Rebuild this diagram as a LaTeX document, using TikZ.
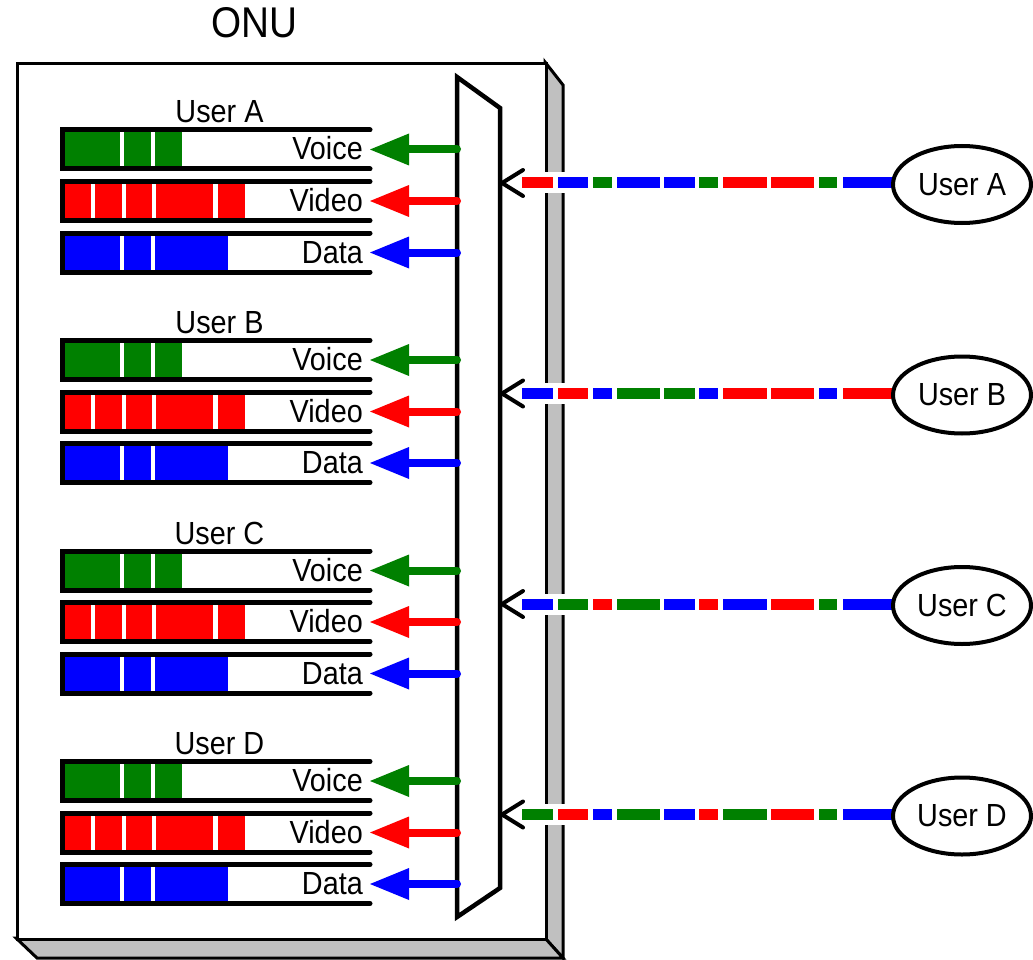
\documentclass[tikz,border=0pt]{standalone}
\usepackage{fontspec}
\setmainfont[FakeStretch=0.9]{Liberation Sans}
\usetikzlibrary{shapes.geometric}

\definecolor{vgreen}{HTML}{008000}
\definecolor{vred}{HTML}{FF0000}
\definecolor{vblue}{HTML}{0000FF}
\definecolor{housegray}{HTML}{C0C0C0}

\tikzset{
  lbl/.style={font=\fontsize{32}{36}\selectfont, inner sep=0pt},
  titlelbl/.style={font=\fontsize{43}{48}\selectfont, inner sep=0pt},
  bracket/.style={line width=5pt, line cap=round, line join=miter},
  feed/.style={line width=8pt, line cap=round},
  muxline/.style={line width=4.5pt, line join=miter, fill=white},
  house/.style={line width=3pt, line join=miter, draw=black},
  userbox/.style={ellipse, draw, line width=4pt, fill=white, minimum width=138pt,
    minimum height=77pt, inner sep=0pt, font=\fontsize{32}{36}\selectfont},
  openarrow/.style={line width=4pt, line cap=round, line join=miter}
}

% one queue: centre y, colour, label, list of packet spans, name
\newcommand\queuerow[5]{%
  \foreach \a/\b in {#4} {\fill[#2] (\a,#1-17) rectangle (\b,#1+17);}
  \draw[bracket] (370,#1-19.5) -- (62,#1-19.5) -- (62,#1+19.5) -- (370,#1+19.5);
  \node[lbl, anchor=base east] (#5) at (363,#1+10.5) {#3};
  \coordinate (#5src) at (457,#1);
  \coordinate (#5tip) at (370,#1);
  \draw[feed, #2] (#5src) -- (409,#1);
  \fill[#2] (#5tip) -- (409,#1-16) -- (409,#1+16) -- cycle;
}

% one user: vertical offset, letter, colours of the ten packets on the drop line
\newcommand\usergroup[3]{%
  \begin{scope}[yshift=-#1pt]
    \node[lbl, anchor=base] (lab#2) at (219.5,123) {User #2};
    \queuerow{149.5}{vgreen}{Voice}{64/120,124/151,155/182}{voice#2}
    \queuerow{201}{vred}{Video}{64/91,95/122,126/152,156/213,218/245}{video#2}
    \queuerow{252.5}{vblue}{Data}{64/120,124/151,155/228}{data#2}
    % drop line from the user into the ONU
    \coordinate (in#2) at (502,183);
    \fill[white] (540,172.5) rectangle (567,193.5);
    \foreach \c [count=\i from 0] in {#3} {
      \pgfmathsetmacro\xa{{522,558,593,617,664,699,723,771,819,843}[\i]}
      \pgfmathsetmacro\xb{{553,588,612,660,695,718,767,814,837,893}[\i]}
      \fill[\c] (\xa,177.5) rectangle (\xb,188.5);
    }
    \node[userbox] (ue#2) at (962,184.5) {User #2};
    \draw[openarrow] ([shift={(21,-13)}]in#2) -- (in#2) -- ([shift={(21,13)}]in#2);
  \end{scope}
}

\begin{document}
\begin{tikzpicture}[x=1pt, y=-1pt]
  \useasboundingbox (0,0) rectangle (1033,960);

  % ONU housing: side and bottom faces, then the front face
  \filldraw[house, fill=housegray] (545,62) -- (563,85) -- (563,958) -- (545,938) -- cycle;
  \filldraw[house, fill=housegray] (16,938) -- (545,938) -- (563,958) -- (37,958) -- cycle;
  \node[house, fill=white, minimum width=529pt, minimum height=876pt,
        anchor=north west, inner sep=0pt] (onu) at (16,62) {};
  \node[titlelbl, anchor=base] (title) at (254,38) {ONU};

  % demultiplexer
  \coordinate (m1) at (457,77);
  \coordinate (m2) at (500,108);
  \coordinate (m3) at (500,888);
  \coordinate (m4) at (457,917);
  \draw[muxline] (m1) -- (m2) -- (m3) -- (m4) -- cycle;

  \usergroup{0}{A}{vred,vblue,vgreen,vblue,vblue,vgreen,vred,vred,vgreen,vblue}
  \usergroup{210.5}{B}{vblue,vred,vblue,vgreen,vgreen,vblue,vred,vred,vblue,vred}
  \usergroup{421}{C}{vblue,vgreen,vred,vgreen,vblue,vred,vblue,vred,vgreen,vblue}
  \usergroup{631.5}{D}{vgreen,vred,vblue,vgreen,vblue,vred,vgreen,vred,vgreen,vblue}
\end{tikzpicture}
\end{document}
